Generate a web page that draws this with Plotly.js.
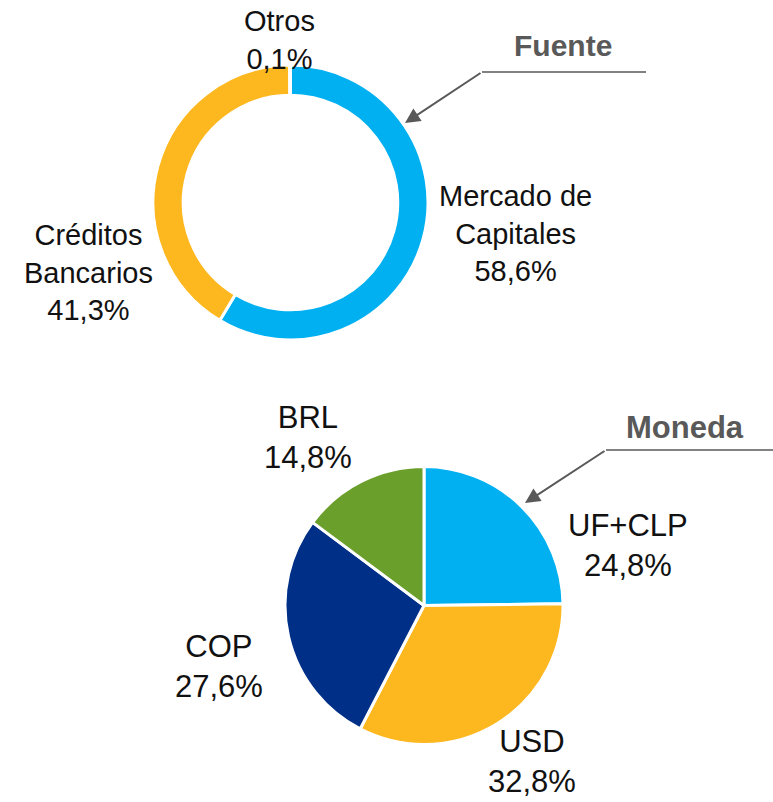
<!DOCTYPE html>
<html>
<head>
<meta charset="utf-8">
<script src="https://cdn.plot.ly/plotly-3.0.1.min.js"></script>
<style>html,body{margin:0;padding:0;background:#fff;}#chart{width:773px;height:802px;}</style>
</head>
<body>
<div id="chart"></div>
<script>
// ---- data ----
const fuenteLabels = ['Mercado de<br>Capitales', 'Créditos<br>Bancarios', 'Otros'];
const fuenteValues = [58.6, 41.3, 0.1];
const fuenteColors = ['#00B0F0', '#FDB71F', '#A6A6A6'];

const monedaLabels = ['UF+CLP', 'USD', 'COP', 'BRL'];
const monedaValues = [24.8, 32.8, 27.6, 14.8];
const monedaColors = ['#00B0F0', '#FDB71F', '#002F87', '#6A9F2B'];

const titleFuente = 'Fuente';
const titleMoneda = 'Moneda';

// ---- layout helpers (pixel positions) ----
const W = 773, H = 802;
const px = x => x / W;
const py = y => 1 - y / H;
const fmt = v => v.toFixed(1).replace('.', ',') + '%';

const fuenteLabelPos = [[515, 234], [88, 272], [279, 40]];
const monedaLabelPos = [[628, 545], [532, 761], [219, 666], [308, 437]];

const annotations = [];
fuenteLabels.forEach((l, i) => annotations.push({
  xref: 'paper', yref: 'paper', x: px(fuenteLabelPos[i][0]), y: py(fuenteLabelPos[i][1]),
  xanchor: 'center', yanchor: 'middle', showarrow: false,
  text: l + '<br>' + fmt(fuenteValues[i]),
  font: {family: 'Liberation Sans, Arial, sans-serif', size: 29, color: '#111'}
}));
monedaLabels.forEach((l, i) => annotations.push({
  xref: 'paper', yref: 'paper', x: px(monedaLabelPos[i][0]), y: py(monedaLabelPos[i][1]),
  xanchor: 'center', yanchor: 'middle', showarrow: false,
  text: l + '<br>' + fmt(monedaValues[i]),
  font: {family: 'Liberation Sans, Arial, sans-serif', size: 31, color: '#111'}
}));
// titles
annotations.push({xref:'paper', yref:'paper', x: px(563), y: py(45), xanchor:'center', yanchor:'middle',
  showarrow:false, text:'<b>'+titleFuente+'</b>', font:{family:'Liberation Sans, Arial, sans-serif', size:30, color:'#595959'}});
annotations.push({xref:'paper', yref:'paper', x: px(685), y: py(428), xanchor:'center', yanchor:'middle',
  showarrow:false, text:'<b>'+titleMoneda+'</b>', font:{family:'Liberation Sans, Arial, sans-serif', size:31, color:'#595959'}});
// arrows
annotations.push({xref:'paper', yref:'paper', x: px(405), y: py(123), ax: 77, ay: -51, text:'',
  showarrow:true, arrowhead:2, arrowsize:1.5, arrowwidth:2, arrowcolor:'#595959'});
annotations.push({xref:'paper', yref:'paper', x: px(525), y: py(503), ax: 81, ay: -53, text:'',
  showarrow:true, arrowhead:2, arrowsize:1.5, arrowwidth:2, arrowcolor:'#595959'});

const shapes = [
  {type:'line', xref:'paper', yref:'paper', x0:px(482), x1:px(646), y0:py(72), y1:py(72), line:{color:'#595959', width:1.5}},
  {type:'line', xref:'paper', yref:'paper', x0:px(606), x1:px(773), y0:py(450), y1:py(450), line:{color:'#595959', width:1.5}}
];

const traces = [
  {type:'pie', labels: fuenteLabels, values: fuenteValues, hole: 0.78, sort:false, direction:'clockwise', rotation:0,
   marker:{colors: fuenteColors, line:{color:'#fff', width:3}}, textinfo:'none', hoverinfo:'none',
   domain:{x:[px(153), px(428)], y:[py(340), py(65)]}},
  {type:'pie', labels: monedaLabels, values: monedaValues, sort:false, direction:'clockwise', rotation:0,
   marker:{colors: monedaColors, line:{color:'#fff', width:3}}, textinfo:'none', hoverinfo:'none',
   domain:{x:[px(285), px(563)], y:[py(744.5), py(466.5)]}}
];

const layout = {
  width: W, height: H, margin:{l:0, r:0, t:0, b:0}, showlegend:false,
  paper_bgcolor:'#fff', plot_bgcolor:'#fff',
  annotations, shapes
};
Plotly.newPlot('chart', traces, layout, {staticPlot:true, displayModeBar:false});
</script>
</body>
</html>
